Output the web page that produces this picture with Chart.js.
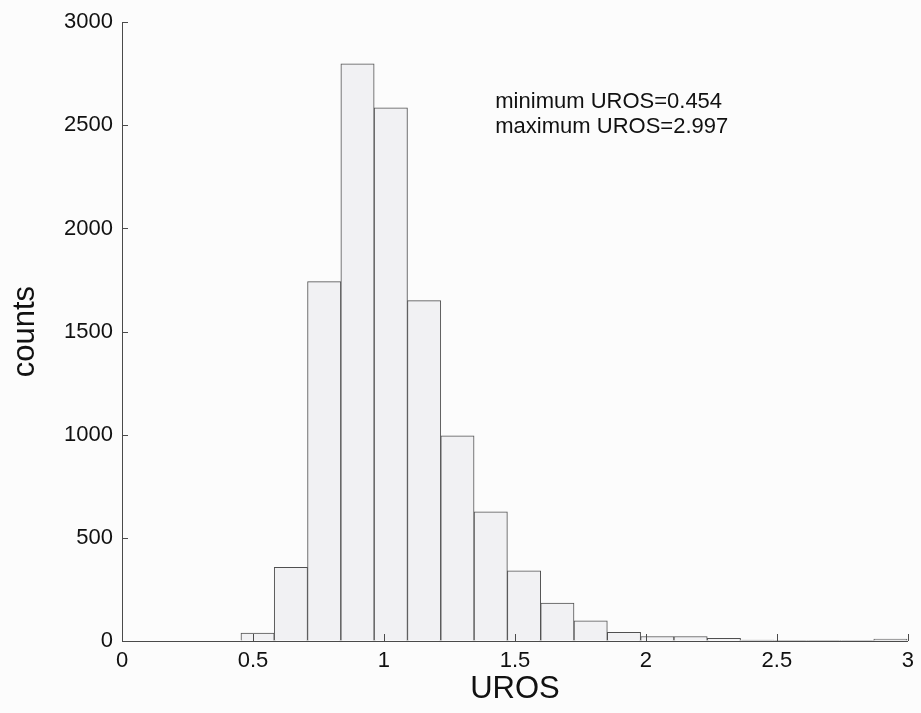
<!DOCTYPE html>
<html>
<head>
<meta charset="utf-8">
<script src="https://cdn.jsdelivr.net/npm/chart.js@4"></script>
<style>
  html, body { margin: 0; padding: 0; background: #fcfcfc; }
  #wrap { width: 921px; height: 713px; position: relative; }
</style>
</head>
<body>
<div id="wrap"><canvas id="c"></canvas></div>
<script>
// Histogram of UROS values: 20 equal bins between the minimum and maximum
const binCenters = [0.51758, 0.64473, 0.77188, 0.89903, 1.02618, 1.15333, 1.28048, 1.40763, 1.53478, 1.66193,
                    1.78908, 1.91623, 2.04338, 2.17053, 2.29768, 2.42483, 2.55198, 2.67913, 2.80628, 2.93343];
const binCounts  = [38, 357, 1742, 2798, 2585, 1650, 995, 626, 340, 184,
                    98, 42, 22, 22, 13, 4, 2, 2, 1, 9];
const xTickValues = [0, 0.5, 1, 1.5, 2, 2.5, 3];
const yTickValues = [0, 500, 1000, 1500, 2000, 2500, 3000];
const noteLines = ['minimum UROS=0.454', 'maximum UROS=2.997'];

const FONT = "'Liberation Sans', Arial, Helvetica, sans-serif";
const AXIS_COLOR = '#4a4a4a';

// Short tick marks drawn inside the plot area, plus the min/max note
const innerTicks = {
  id: 'innerTicks',
  afterDraw(chart) {
    const ctx = chart.ctx;
    const x = chart.scales.x, y = chart.scales.y;
    const area = chart.chartArea;
    ctx.save();
    ctx.strokeStyle = AXIS_COLOR;
    ctx.lineWidth = 1;
    ctx.beginPath();
    yTickValues.forEach(v => {
      const py = Math.round(y.getPixelForValue(v)) + 0.5;
      ctx.moveTo(area.left, py);
      ctx.lineTo(area.left + 6, py);
    });
    xTickValues.forEach(v => {
      const px = Math.round(x.getPixelForValue(v)) + 0.5;
      ctx.moveTo(px, area.bottom);
      ctx.lineTo(px, area.bottom - 7);
    });
    ctx.stroke();

    ctx.fillStyle = '#111';
    ctx.font = '22px ' + FONT;
    ctx.textBaseline = 'alphabetic';
    const nx = x.getPixelForValue(1.425);
    const ny = y.getPixelForValue(2585);
    noteLines.forEach((t, i) => ctx.fillText(t, nx, ny + i * 25));
    ctx.restore();
  }
};

new Chart(document.getElementById('c'), {
  type: 'bar',
  data: {
    datasets: [{
      data: binCenters.map((c, i) => ({ x: c, y: binCounts[i] })),
      backgroundColor: '#f1f1f3',
      borderColor: '#505050',
      borderWidth: 1,
      barPercentage: 1,
      categoryPercentage: 1
    }]
  },
  options: {
    responsive: true,
    maintainAspectRatio: false,
    animation: false,
    devicePixelRatio: 1,
    layout: { padding: { left: 0, top: 19, right: 9, bottom: 0 } },
    plugins: { legend: { display: false }, tooltip: { enabled: false } },
    scales: {
      x: {
        type: 'linear',
        min: 0,
        max: 3,
        offset: false,
        afterBuildTicks(scale) { scale.ticks = xTickValues.map(v => ({ value: v })); },
        afterFit(scale) { scale.height = 72; },
        grid: { drawOnChartArea: false, drawTicks: false },
        border: { display: true, color: AXIS_COLOR, width: 1 },
        ticks: {
          color: '#111',
          padding: 7,
          maxRotation: 0,
          font: { family: FONT, size: 22 },
          callback: v => String(v)
        },
        title: {
          display: true,
          text: 'UROS',
          color: '#111',
          padding: { top: 0, bottom: 5 },
          font: { family: FONT, size: 31 }
        }
      },
      y: {
        min: 0,
        max: 3000,
        afterBuildTicks(scale) { scale.ticks = yTickValues.map(v => ({ value: v })); },
        afterFit(scale) { scale.width = 122; },
        grid: { drawOnChartArea: false, drawTicks: false },
        border: { display: true, color: AXIS_COLOR, width: 1 },
        ticks: {
          color: '#111',
          padding: 9,
          font: { family: FONT, size: 22 },
          callback: v => String(v)
        },
        title: {
          display: true,
          text: 'counts',
          color: '#111',
          padding: { top: 7, bottom: 0 },
          font: { family: FONT, size: 31 }
        }
      }
    }
  },
  plugins: [innerTicks]
});
</script>
</body>
</html>
